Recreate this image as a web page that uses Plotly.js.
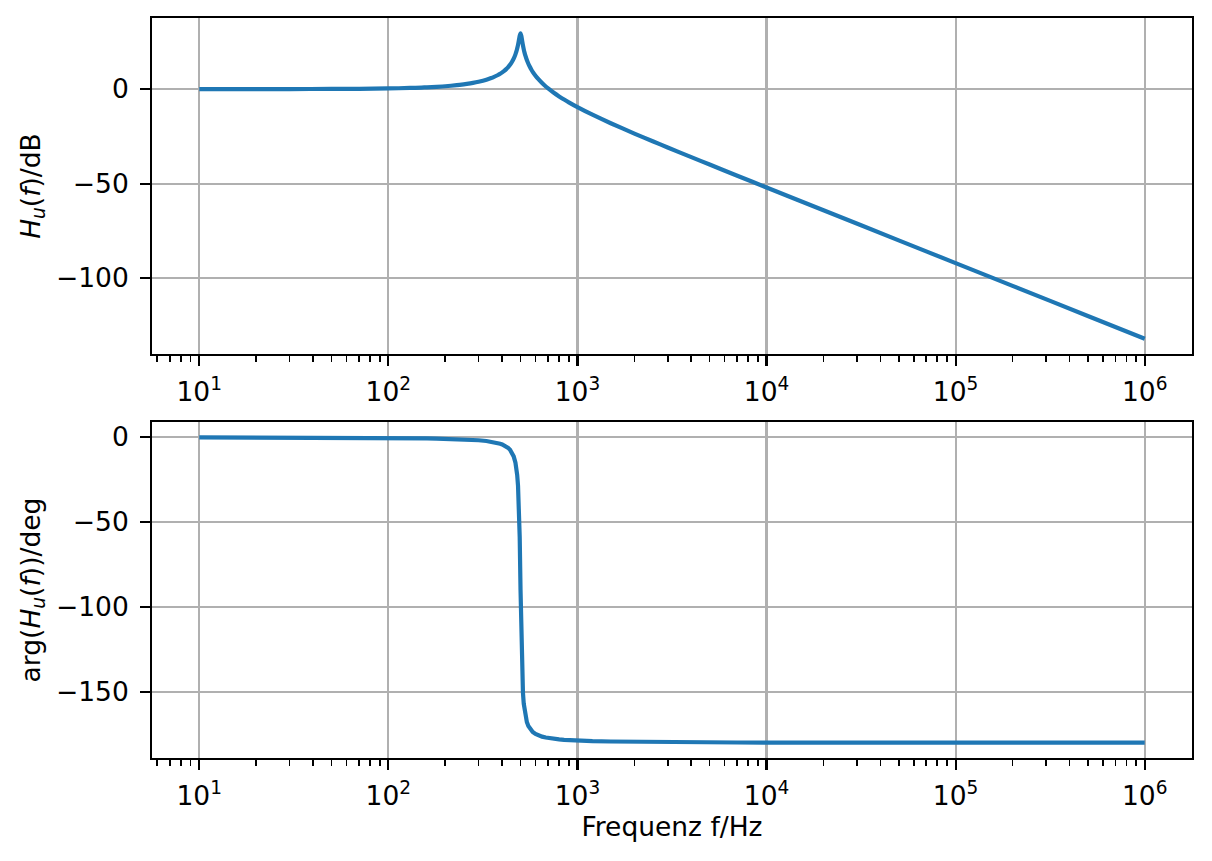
<!DOCTYPE html>
<html>
<head>
<meta charset="utf-8">
<script src="https://cdn.plot.ly/plotly-3.0.1.min.js"></script>
<style>
  html, body { margin: 0; padding: 0; background: #ffffff; }
  #chart { width: 1212px; height: 861px; }
</style>
</head>
<body>
<div id="chart"></div>
<script>
// Frequency samples (Hz)
const freq = [10, 15, 20, 30, 50, 70, 100, 130, 150, 160,
  180, 200, 230, 250, 260, 280, 300, 330, 350, 360,
  380, 390, 400, 410, 420, 430, 440, 450, 460, 470,
  475, 480, 485, 490, 495, 500, 505, 510, 515, 520,
  525, 530, 540, 550, 560, 570, 580, 600, 620, 650,
  680, 700, 750, 800, 850, 900, 1000, 1200, 1500, 2000,
  2500, 3000, 4000, 5000, 7000, 10000, 20000, 50000, 100000, 200000,
  500000, 1000000];

// Magnitude |H_u(f)| in dB
const magnitudeDb = [0.0, 0.01, 0.01, 0.03, 0.09, 0.17, 0.35, 0.61, 0.82, 0.94,
  1.21, 1.51, 2.07, 2.50, 2.74, 3.27, 3.88, 4.97, 5.85, 6.34,
  7.47, 8.12, 8.85, 9.66, 10.58, 11.63, 12.86, 14.32, 16.10, 18.38,
  19.79, 21.44, 23.43, 25.79, 28.28, 29.54, 28.13, 25.55, 23.11, 21.05,
  19.31, 17.82, 15.38, 13.42, 11.80, 10.40, 9.17, 7.10, 5.37, 3.21,
  1.40, 0.35, -1.95, -3.86, -5.53, -7.00, -9.54, -13.55, -18.06, -23.52,
  -27.60, -30.88, -35.99, -39.91, -45.80, -52.02, -64.08, -80.00, -92.04, -104.08,
  -120.00, -132.04];

// Phase arg(H_u(f)) in degrees
const phaseDeg = [-0.04, -0.06, -0.08, -0.12, -0.19, -0.27, -0.40, -0.53, -0.63, -0.68,
  -0.79, -0.91, -1.11, -1.27, -1.36, -1.56, -1.79, -2.23, -2.62, -2.85,
  -3.43, -3.80, -4.24, -4.77, -5.43, -6.28, -7.41, -8.97, -11.29, -15.07,
  -17.99, -22.20, -28.68, -39.52, -58.9, -90.0, -120.84, -139.92, -150.59, -156.98,
  -161.15, -164.05, -167.79, -170.09, -171.65, -172.77, -173.61, -174.81, -175.60, -176.41,
  -176.95, -177.22, -177.71, -178.04, -178.28, -178.47, -178.73, -179.04, -179.28, -179.49,
  -179.60, -179.67, -179.76, -179.81, -179.86, -179.90, -179.95, -179.98, -179.99, -180.0,
  -180.0, -180.0];

// Axis tick labels
const xTickVals = [10, 100, 1000, 10000, 100000, 1000000];
const xTickText = ['10<sup>1</sup>', '10<sup>2</sup>', '10<sup>3</sup>', '10<sup>4</sup>', '10<sup>5</sup>', '10<sup>6</sup>'];
const xMinorVals = [6, 7, 8, 9,
  20, 30, 40, 50, 60, 70, 80, 90,
  200, 300, 400, 500, 600, 700, 800, 900,
  2000, 3000, 4000, 5000, 6000, 7000, 8000, 9000,
  20000, 30000, 40000, 50000, 60000, 70000, 80000, 90000,
  200000, 300000, 400000, 500000, 600000, 700000, 800000, 900000];
const magTickVals = [-100, -50, 0];
const phaseTickVals = [-150, -100, -50, 0];

const FONT = 'DejaVu Sans, Verdana, sans-serif';
const FS = 26.5;
const lineColor = '#1f77b4';

function xAxis(anchor, withTitle) {
  const ax = {
    type: 'log',
    range: [0.75, 6.25],
    domain: [0, 1],
    anchor: anchor,
    tickmode: 'array',
    tickvals: xTickVals,
    ticktext: xTickText,
    ticks: 'outside',
    ticklen: 9.7,
    tickwidth: 2.2,
    tickcolor: '#000000',
    ticklabelstandoff: 3,
    showgrid: true,
    gridcolor: '#b0b0b0',
    gridwidth: 2.2,
    zeroline: false,
    showline: true,
    mirror: true,
    linecolor: '#000000',
    linewidth: 2.2,
    automargin: false,
    tickfont: { family: FONT, size: FS, color: '#000000' },
    minor: {
      tickmode: 'array',
      tickvals: xMinorVals,
      ticks: 'outside',
      ticklen: 5.6,
      tickwidth: 1.7,
      tickcolor: '#000000',
      showgrid: false
    }
  };
  if (withTitle) {
    ax.title = { text: 'Frequenz f/Hz', font: { family: FONT, size: FS, color: '#000000' }, standoff: 7 };
  }
  return ax;
}

function yAxis(anchor, domain, range, tickvals, title) {
  return {
    domain: domain,
    anchor: anchor,
    range: range,
    tickmode: 'array',
    tickvals: tickvals,
    ticks: 'outside',
    ticklen: 9.7,
    tickwidth: 2.2,
    tickcolor: '#000000',
    ticklabelstandoff: 6,
    showgrid: true,
    gridcolor: '#b0b0b0',
    gridwidth: 2.2,
    zeroline: false,
    showline: true,
    mirror: true,
    linecolor: '#000000',
    linewidth: 2.2,
    automargin: false,
    tickfont: { family: FONT, size: FS, color: '#000000' },
    title: { text: title, font: { family: FONT, size: FS, color: '#000000' }, standoff: 8 }
  };
}

const traces = [
  { x: freq, y: magnitudeDb, type: 'scatter', mode: 'lines', xaxis: 'x', yaxis: 'y',
    line: { color: lineColor, width: 4.2, shape: 'spline', smoothing: 0.6 }, hoverinfo: 'skip' },
  { x: freq, y: phaseDeg, type: 'scatter', mode: 'lines', xaxis: 'x2', yaxis: 'y2',
    line: { color: lineColor, width: 4.2 }, hoverinfo: 'skip' }
];

const layout = {
  width: 1212,
  height: 861,
  margin: { l: 152, r: 20, t: 18, b: 103, pad: 0 },
  paper_bgcolor: '#ffffff',
  plot_bgcolor: '#ffffff',
  showlegend: false,
  font: { family: FONT, size: FS, color: '#000000' },
  xaxis: xAxis('y', false),
  yaxis: yAxis('x', [0.54595, 1], [-140.12, 37.62], magTickVals, '<i>H</i><sub><i>u</i></sub>(<i>f</i>)/dB'),
  xaxis2: xAxis('y2', true),
  yaxis2: yAxis('x2', [0, 0.45405], [-189.0, 8.96], phaseTickVals, 'arg(<i>H</i><sub><i>u</i></sub>(<i>f</i>))/deg')
};

Plotly.newPlot('chart', traces, layout, { staticPlot: true, displayModeBar: false });
</script>
</body>
</html>
